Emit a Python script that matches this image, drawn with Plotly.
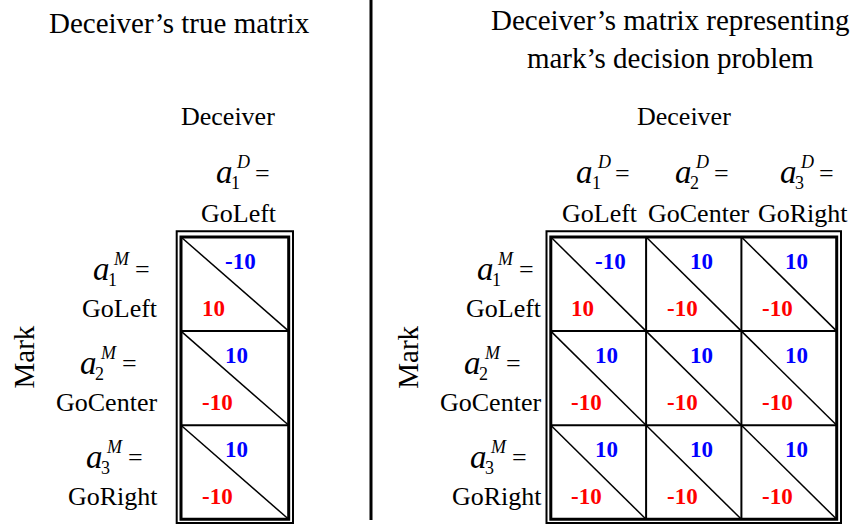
import plotly.graph_objects as go

# ---------------- data ----------------
panel_titles = ["Deceiver’s true matrix",
                "Deceiver’s matrix representing<br>mark’s decision problem"]
col_player = "Deceiver"
row_player = "Mark"
action_names = ["GoLeft", "GoCenter", "GoRight"]

# true matrix: 3 mark actions x 1 deceiver action
true_deceiver_payoff = [[-10], [10], [10]]
true_mark_payoff = [[10], [-10], [-10]]

# represented matrix: 3 mark actions x 3 deceiver actions
rep_deceiver_payoff = [[-10, 10, 10],
                       [10, 10, 10],
                       [10, 10, 10]]
rep_mark_payoff = [[10, -10, -10],
                   [-10, -10, -10],
                   [-10, -10, -10]]

# ---------------- style / layout ----------------
W, H = 855, 525
SERIF = "Liberation Serif"
BLUE = "#0000FF"
RED = "#FF0000"

fig = go.Figure()
ann = []
shapes = []

CHAR_W = {"G": .722, "o": .5, "L": .611, "e": .444, "f": .333, "t": .278,
          "C": .667, "n": .5, "r": .333, "R": .667, "i": .278, "g": .5, "h": .5}


def text_width(s, size):
    return sum(CHAR_W.get(c, .5) for c in s) * size


def txt(x, y, s, size, color="black", xanchor="center", angle=0):
    ann.append(dict(x=x, y=y, xref="x", yref="y", text=s, showarrow=False,
                    xanchor=xanchor, yanchor="middle", textangle=angle,
                    font=dict(family=SERIF, size=size, color=color)))


def line(x0, y0, x1, y1, w):
    shapes.append(dict(type="line", xref="x", yref="y", x0=x0, y0=y0, x1=x1, y1=y1,
                       line=dict(color="black", width=w)))


def rect(x0, y0, x1, y1, w):
    shapes.append(dict(type="rect", xref="x", yref="y", x0=x0, y0=y0, x1=x1, y1=y1,
                       line=dict(color="black", width=w), fillcolor="rgba(0,0,0,0)"))


def action_label(cx, y_a, y_go, letter, idx, name):
    """a_idx^letter =  above the action name."""
    a_off = -15 if letter == "D" else -18.5
    eq_off = 38 if letter == "D" else 41.5
    xa = cx + a_off
    txt(xa, y_a - 3, "<i>a</i>", 33)
    txt(xa + 10, y_a - 13, "<i>%s</i>" % letter, 18, xanchor="left")
    txt(xa + 5, y_a + 8, str(idx), 18, xanchor="left")
    txt(xa + eq_off, y_a - 2, "=", 26)
    txt(cx, y_go, name, 26)


def draw_panel(x0, y0, cw, ch, dec_pay, mark_pay, labels_right, mark_x, col_label_cx):
    nrows, ncols = len(dec_pay), len(dec_pay[0])
    x1, y1 = x0 + cw * ncols, y0 + ch * nrows
    # outer double border
    rect(x0 - 4.3, y0 - 5.8, x1 + 4.3, y1 + 3.8, 2)
    # grid
    for r in range(1, nrows):
        line(x0, y0 + r * ch, x1, y0 + r * ch, 2)
    for c in range(1, ncols):
        line(x0 + c * cw, y0, x0 + c * cw, y1, 2)
    for r in range(nrows):
        for c in range(ncols):
            cx0, cy0 = x0 + c * cw, y0 + r * ch
            line(cx0, cy0, cx0 + cw, cy0 + ch, 1.5)
            txt(cx0 + 42, cy0 + 24, "<b>%d</b>" % dec_pay[r][c], 23, BLUE, "left")
            txt(cx0 + 18.5, cy0 + 71.5, "<b>%d</b>" % mark_pay[r][c], 23, RED, "left")
    rect(x0, y0, x1, y1, 3)
    # column headers
    for c in range(ncols):
        action_label(col_label_cx[c], 175, 213, "D", c + 1, action_names[c])
    # row headers
    for r in range(nrows):
        name = action_names[r]
        cx = labels_right - text_width(name, 26) / 2
        yc = y0 + r * ch + ch / 2
        action_label(cx, yc - 12.5, yc + 24.5, "M", r + 1, name)
    txt(mark_x, 357, row_player, 29, angle=-90)


# left panel
txt(179, 23, panel_titles[0], 29)
txt(228, 116, col_player, 26)
draw_panel(181, 237, 107.7, 94.1, true_deceiver_payoff, true_mark_payoff,
           157.5, 23.5, [239])

# right panel
ann.append(dict(x=670, y=39, xref="x", yref="y", text=panel_titles[1], showarrow=False,
                xanchor="center", yanchor="middle", align="center",
                font=dict(family=SERIF, size=29, color="black")))
txt(683.5, 116, col_player, 26)
draw_panel(550.8, 237, 95.3, 94.1, rep_deceiver_payoff, rep_mark_payoff,
           541.5, 407.7, [599.5, 698, 803.3])

# divider
line(371, 0, 371, 520, 3)

fig.update_layout(
    width=W, height=H, margin=dict(l=0, r=0, t=0, b=0),
    paper_bgcolor="white", plot_bgcolor="white",
    xaxis=dict(range=[0, W], visible=False, fixedrange=True),
    yaxis=dict(range=[H, 0], visible=False, fixedrange=True),
    annotations=ann, shapes=shapes, showlegend=False,
)
fig.write_html("out.html", config={"displayModeBar": False},
               post_script="document.body.style.margin='0';document.body.style.overflow='hidden';")
